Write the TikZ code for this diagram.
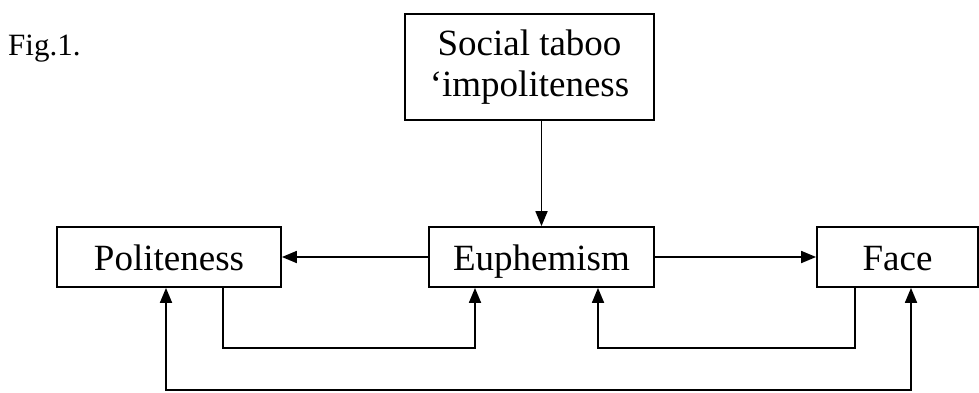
\documentclass[tikz,border=0pt]{standalone}
\usepackage{fontspec}
\setmainfont{Liberation Serif}
\usetikzlibrary{arrows.meta}
\begin{document}
\begin{tikzpicture}[x=1pt,y=-1pt,
  box/.style={draw, line width=1.8pt, inner sep=0pt, align=center,
    font=\fontsize{37}{41}\selectfont},
  onebox/.style={box, minimum height=60pt, text height=34pt, text depth=8pt},
  link/.style={line width=1.8pt, -{Triangle[length=15pt,width=12pt]}},
  both/.style={line width=1.8pt, {Triangle[length=15pt,width=12pt]}-{Triangle[length=15pt,width=12pt]}}]
\useasboundingbox (0,0) rectangle (979,392);
\node[anchor=base west, inner sep=0pt, font=\fontsize{31}{36}\selectfont] (fig) at (8,55) {Fig.1.};
\node[box, minimum width=249pt, minimum height=106pt] (taboo) at (529.5,67) {Social taboo\\‘impoliteness};
\node[onebox, minimum width=224pt] (pol) at (169,257) {Politeness};
\node[onebox, minimum width=225pt] (euph) at (541.5,257) {Euphemism};
\node[onebox, minimum width=161pt] (face) at (897.5,257) {Face};
\draw[link] (euph.north |- taboo.south) -- (euph.north);
\draw[link] (euph.west) -- (pol.east);
\draw[link] (euph.east) -- (face.west);
\draw[link] ([xshift=54pt]pol.south) -- ++(0,60) -| ([xshift=-66.5pt]euph.south);
\draw[link] ([xshift=-42.5pt]face.south) -- ++(0,60) -| ([xshift=56.5pt]euph.south);
\draw[both] ([xshift=-3pt]pol.south) -- ++(0,102) -| ([xshift=13.5pt]face.south);
\end{tikzpicture}
\end{document}
